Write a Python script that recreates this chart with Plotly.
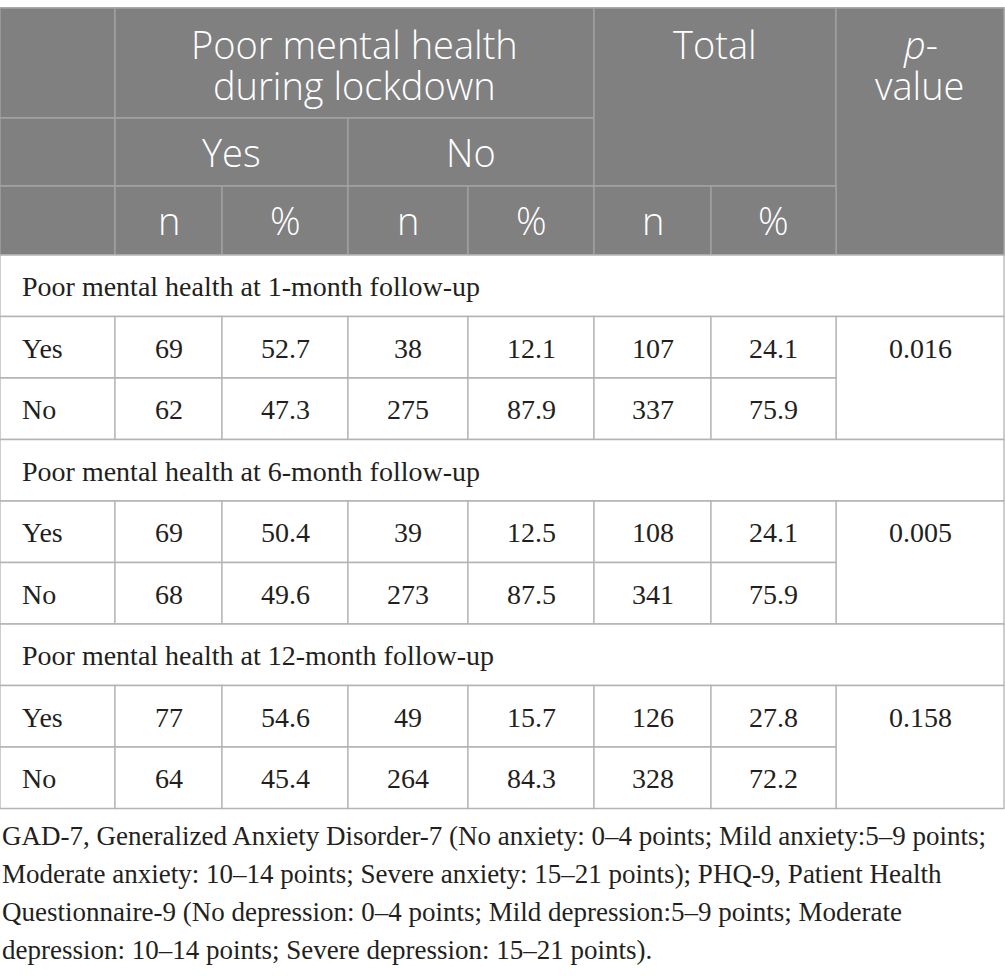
import plotly.graph_objects as go

# ---- table content ----
group_titles = [
    "Poor mental health at 1-month follow-up",
    "Poor mental health at 6-month follow-up",
    "Poor mental health at 12-month follow-up",
]
row_labels = ["Yes", "No"]
yes_n = [[69, 62], [69, 68], [77, 64]]
yes_pct = [[52.7, 47.3], [50.4, 49.6], [54.6, 45.4]]
no_n = [[38, 275], [39, 273], [49, 264]]
no_pct = [[12.1, 87.9], [12.5, 87.5], [15.7, 84.3]]
total_n = [[107, 337], [108, 341], [126, 328]]
total_pct = [[24.1, 75.9], [24.1, 75.9], [27.8, 72.2]]
p_values = ["0.016", "0.005", "0.158"]

header_top = ["Poor mental health", "during lockdown"]
header_total = "Total"
header_p = ["<i>p</i>-", "value"]
header_mid = ["Yes", "No"]
header_sub = ["n", "%", "n", "%", "n", "%"]

footnote = [
    "GAD-7, Generalized Anxiety Disorder-7 (No anxiety: 0–4 points; Mild anxiety:5–9 points;",
    "Moderate anxiety: 10–14 points; Severe anxiety: 15–21 points); PHQ-9, Patient Health",
    "Questionnaire-9 (No depression: 0–4 points; Mild depression:5–9 points; Moderate",
    "depression: 10–14 points; Severe depression: 15–21 points).",
]

# ---- layout geometry (pixels) ----
W, H = 1005, 976
col_edges = [0, 115, 222, 348, 468, 594, 711, 836, 1004]
head_edges = [8, 118, 186, 255]
row_h = 61.5

HEAD_BG = "#808080"
HEAD_LINE = "#a3a3a3"
BODY_LINE = "#b3b3b3"
SANS = "Open Sans"
SERIF = "Liberation Serif"
TXT = "#231f20"

fig = go.Figure()
shapes = []
ann = []


def rect(x0, y0, x1, y1, fill, line):
    shapes.append(dict(type="rect", xref="x", yref="y", x0=x0, y0=y0, x1=x1, y1=y1,
                       fillcolor=fill, line=dict(color=line, width=1.3), layer="below"))


def text(x, y, s, font, size, color, xanchor="center", weight="normal"):
    ann.append(dict(x=x, y=y, xref="x", yref="y", text=s, showarrow=False,
                    xanchor=xanchor, yanchor="middle",
                    font=dict(family=font, size=size, color=color, weight=weight)))


c = col_edges
h = head_edges
# header background and cells
rect(c[0], h[0], c[-1], h[3], HEAD_BG, HEAD_LINE)
rect(c[0], h[0], c[1], h[1], HEAD_BG, HEAD_LINE)
rect(c[0], h[1], c[1], h[2], HEAD_BG, HEAD_LINE)
rect(c[0], h[2], c[1], h[3], HEAD_BG, HEAD_LINE)
rect(c[1], h[0], c[5], h[1], HEAD_BG, HEAD_LINE)
rect(c[1], h[1], c[3], h[2], HEAD_BG, HEAD_LINE)
rect(c[3], h[1], c[5], h[2], HEAD_BG, HEAD_LINE)
rect(c[5], h[0], c[7], h[2], HEAD_BG, HEAD_LINE)
rect(c[7], h[0], c[8], h[3], HEAD_BG, HEAD_LINE)
for k in range(6):
    rect(c[1 + k], h[2], c[2 + k], h[3], HEAD_BG, HEAD_LINE)

HS = 38
HW = 300
text((c[1] + c[5]) / 2, 44, header_top[0], SANS, HS, "white", weight=HW)
text((c[1] + c[5]) / 2, 85, header_top[1], SANS, HS, "white", weight=HW)
text((c[5] + c[7]) / 2, 44, header_total, SANS, HS, "white", weight=HW)
text((c[7] + c[8]) / 2, 44, header_p[0], SANS, HS, "white", weight=HW)
text((c[7] + c[8]) / 2, 85, header_p[1], SANS, HS, "white", weight=HW)
text((c[1] + c[3]) / 2, (h[1] + h[2]) / 2, header_mid[0], SANS, HS, "white", weight=HW)
text((c[3] + c[5]) / 2, (h[1] + h[2]) / 2, header_mid[1], SANS, HS, "white", weight=HW)
for k, s in enumerate(header_sub):
    text((c[1 + k] + c[2 + k]) / 2, (h[2] + h[3]) / 2 - 1, s, SANS, HS, "white", weight=HW)

# body
BS = 28
y = h[3]
for g, title in enumerate(group_titles):
    rect(c[0], y, c[-1], y + row_h, "white", BODY_LINE)
    text(c[0] + 20, y + row_h / 2 + 1, title, SERIF, BS, TXT, "left")
    y += row_h
    rect(c[7], y, c[8], y + 2 * row_h, "white", BODY_LINE)
    text((c[7] + c[8]) / 2, y + row_h / 2 + 1, p_values[g], SERIF, BS, TXT)
    for r, lab in enumerate(row_labels):
        vals = [yes_n[g][r], yes_pct[g][r], no_n[g][r], no_pct[g][r],
                total_n[g][r], total_pct[g][r]]
        rect(c[0], y, c[1], y + row_h, "white", BODY_LINE)
        text(c[0] + 20, y + row_h / 2 + 1, lab, SERIF, BS, TXT, "left")
        for k, v in enumerate(vals):
            rect(c[1 + k], y, c[2 + k], y + row_h, "white", BODY_LINE)
            text((c[1 + k] + c[2 + k]) / 2, y + row_h / 2 + 1, str(v), SERIF, BS, TXT)
        y += row_h

# footnote
fy = y + 27
for line in footnote:
    text(0, fy, line, SERIF, 27, TXT, "left")
    fy += 38.3

# invisible trace to anchor the axes
fig.add_trace(go.Scatter(x=[0, W], y=[0, H], mode="markers",
                         marker=dict(opacity=0), hoverinfo="skip", showlegend=False))

fig.update_layout(
    width=W, height=H,
    margin=dict(l=0, r=0, t=0, b=0),
    paper_bgcolor="white", plot_bgcolor="white",
    shapes=shapes, annotations=ann,
    xaxis=dict(range=[0, W], visible=False, fixedrange=True),
    yaxis=dict(range=[H, 0], visible=False, fixedrange=True),
)

fig.write_html("out.html", post_script="document.body.style.margin='0';",
               config={"displayModeBar": False})
